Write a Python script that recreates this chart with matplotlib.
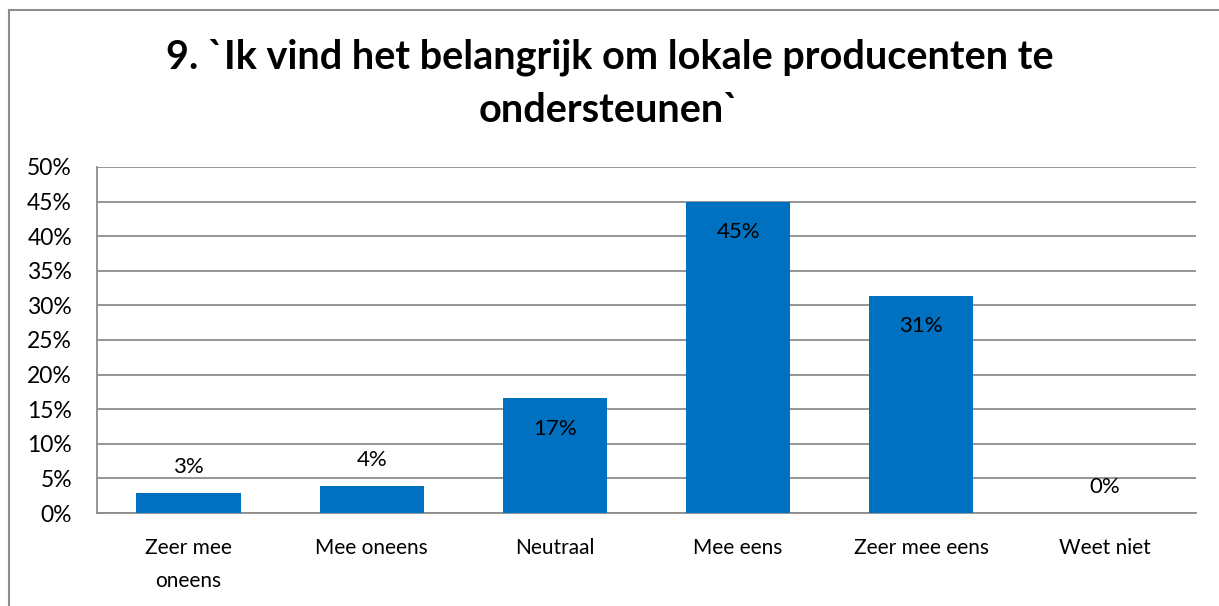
import matplotlib
matplotlib.use("Agg")
import matplotlib.pyplot as plt
from matplotlib.patches import Rectangle
from matplotlib.ticker import MultipleLocator, FuncFormatter

categories = ["Zeer mee\noneens", "Mee oneens", "Neutraal", "Mee eens", "Zeer mee eens", "Weet niet"]
values = [2.9, 3.9, 16.6, 45.0, 31.4, 0.0]
labels = ["3%", "4%", "17%", "45%", "31%", "0%"]
title = "9. `Ik vind het belangrijk om lokale producenten te\nondersteunen`"

plt.rcParams["font.family"] = ["Lato", "DejaVu Sans"]

fig = plt.figure(figsize=(12.19, 6.06), dpi=100)
ax = fig.add_axes([97 / 1219, 1 - 513 / 606, (1196 - 97) / 1219, (513 - 167) / 606])

# chart frame (cropped on right and bottom like the screenshot)
fig.patches.append(Rectangle((9 / 1219, -0.1), 1.2, 1 - 10 / 606 + 0.1,
                             transform=fig.transFigure, fill=False,
                             edgecolor="#8c8c8c", linewidth=1.5))

x = range(len(categories))
ax.bar(x, values, width=0.57, color="#0070C0", zorder=3)

# inside end when the bar is tall enough, otherwise just above it
for xi, v, lab in zip(x, values, labels):
    off = -22 if v > 10 else 19
    ax.annotate(lab, (xi, v), xytext=(0, off), textcoords="offset points",
                ha="center", va="center", fontsize=16, zorder=4)

ax.set_xlim(-0.5, len(categories) - 0.5)
ax.set_ylim(0, 50)
ax.yaxis.set_major_locator(MultipleLocator(5))
ax.yaxis.set_major_formatter(FuncFormatter(lambda v, p: f"{v:.0f}%"))
ax.grid(axis="y", color="#8c8c8c", linewidth=1.3, zorder=0)
ax.set_xticks(list(x))
ax.set_xticklabels(categories, fontsize=15, linespacing=1.8)
ax.tick_params(axis="y", labelsize=16.5, length=0, pad=18)
ax.tick_params(axis="x", length=0, pad=18)
for side in ["top", "right"]:
    ax.spines[side].set_visible(False)
for side in ["left", "bottom"]:
    ax.spines[side].set_color("#8c8c8c")
    ax.spines[side].set_linewidth(1.3)

fig.text(0.5, 1 - 84 / 606, title, ha="center", va="center",
         fontsize=28.5, fontweight="bold", linespacing=1.55)

fig.savefig("out.png", dpi=100)
